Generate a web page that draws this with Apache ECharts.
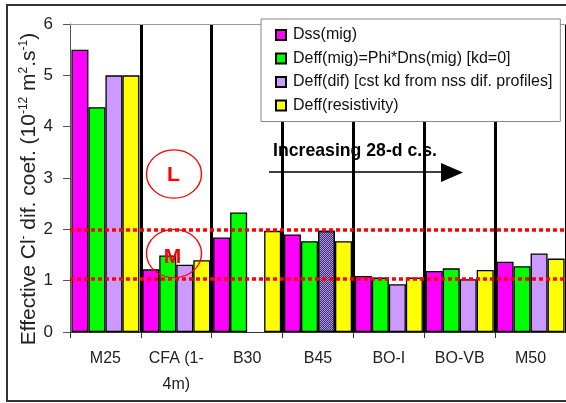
<!DOCTYPE html>
<html><head><meta charset="utf-8">
<script src="https://cdn.jsdelivr.net/npm/echarts@6/dist/echarts.min.js"></script>
<style>html,body{margin:0;padding:0;background:#fff}#c{width:566px;height:403px}</style>
</head><body><div id="c"></div>
<script>
const categories = ['M25', 'CFA (1-\n4m)', 'B30', 'B45', 'BO-I', 'BO-VB', 'M50'];
const seriesNames = ['Dss(mig)', 'Deff(mig)=Phi*Dns(mig) [kd=0]', 'Deff(dif) [cst kd from nss dif. profiles]', 'Deff(resistivity)'];
const dssMig = [5.5, 1.22, 1.84, 1.90, 1.09, 1.19, 1.37];
const deffMig = [4.38, 1.49, 2.33, 1.77, 1.06, 1.24, 1.28];
const deffDif = [5.0, 1.31, null, 1.97, 0.93, 1.03, 1.53];
const deffRes = [5.0, 1.40, 1.97, 1.77, 1.06, 1.21, 1.43];
const thresholds = [2.0, 1.03];
const yMin = 0, yMax = 6, yStep = 1;

const colors = ['#ff00ff', '#00ff00', '#cc99ff', '#ffff00'];
const FONT = 'Liberation Sans, Arial, sans-serif';

const difData = deffDif.map((v, i) => i === 3 ? {
  value: v,
  itemStyle: { color: '#b39ae8', decal: { symbol: 'rect', symbolSize: 1, color: '#3c2a6e', dashArrayX: [[1, 1], [0, 1, 1, 0]], dashArrayY: [1, 0] } }
} : v);

const allData = [dssMig, deffMig, difData, deffRes];
const series = allData.map((d, i) => ({
  name: seriesNames[i], type: 'bar', data: d,
  barGap: '0%', barCategoryGap: '4%',
  itemStyle: { color: colors[i], borderColor: '#000', borderWidth: 1.3 },
  emphasis: { disabled: true }
}));
series[3].markLine = {
  silent: true, symbol: 'none', label: { show: false },
  lineStyle: { color: '#ff0000', type: [4, 3], width: 3.5 },
  data: thresholds.map(t => ({ yAxis: t }))
};

const chart = echarts.init(document.getElementById('c'), null, { renderer: 'canvas' });
chart.setOption({
  backgroundColor: '#fff',
  animation: false,
  textStyle: { fontFamily: FONT },
  grid: { left: 70, top: 24, width: 502, height: 308, containLabel: false },
  legend: {
    orient: 'vertical', left: 261, top: 19,
    backgroundColor: '#fff', borderColor: '#888', borderWidth: 1,
    padding: [7, 8, 7, 14], itemGap: 5.5, itemWidth: 10, itemHeight: 10,
    icon: 'rect',
    textStyle: { fontFamily: FONT, fontSize: 16, color: '#111', lineHeight: 18, padding: [0, 0, 0, 2] },
    data: seriesNames
  },
  xAxis: [{
    type: 'category', data: categories,
    axisLine: { lineStyle: { color: '#333', width: 1 } },
    axisTick: { show: true, interval: 0, length: 6, lineStyle: { color: '#333' } },
    axisLabel: { interval: 0, fontSize: 16, color: '#222', margin: 14, lineHeight: 26, fontFamily: FONT },
    splitLine: { show: true, interval: function (idx) { return idx !== 0; }, lineStyle: { color: '#000', width: 3 } }
  }, {
    type: 'category', data: categories, position: 'top',
    axisLine: { show: true, lineStyle: { color: '#999', width: 1 } },
    axisTick: { show: false }, axisLabel: { show: false }, splitLine: { show: false }
  }],
  yAxis: {
    type: 'value', min: yMin, max: yMax, interval: yStep,
    axisLine: { show: true, lineStyle: { color: '#555' } },
    axisTick: { show: true, length: 7, lineStyle: { color: '#555' } },
    splitLine: { show: false },
    axisLabel: { fontSize: 17, color: '#222', margin: 17 },
    name: '{a|Effective Cl}{s|-}{a| dif. coef. (10}{s|-12}{a| m}{s|2}{a|.s}{s|-1}{a|)}',
    nameLocation: 'middle', nameGap: 30, nameMoveOverlap: false,
    nameTextStyle: {
      padding: [0, 22, 0, 0],
      rich: {
        a: { fontSize: 21, color: '#222', fontFamily: FONT, lineHeight: 22 },
        s: { fontSize: 12, color: '#222', fontFamily: FONT, verticalAlign: 'top', lineHeight: 12 }
      }
    }
  },
  series: series,
  graphic: [
    { type: 'rect', shape: { x: 7, y: 5, width: 620, height: 396 }, style: { fill: 'none', stroke: '#333', lineWidth: 2 }, z: 100, silent: true },
    { type: 'line', shape: { x1: 269, y1: 172, x2: 444, y2: 172 }, style: { stroke: '#000', lineWidth: 1.5 }, z: -1, silent: true },
    { type: 'polygon', shape: { points: [[441, 163], [463, 172.5], [441, 182]] }, style: { fill: '#000' }, z: -1, silent: true },
    { type: 'text', x: 273, y: 151, scaleX: 0.93, style: { text: 'Increasing 28-d c.s.', font: 'bold 19px ' + FONT, fill: '#000', verticalAlign: 'middle' }, z: -1, silent: true },
    { type: 'circle', x: 174, y: 174, scaleY: 0.88, shape: { cx: 0, cy: 0, r: 27.5 }, style: { fill: 'none', stroke: '#ff0000', lineWidth: 1.4 }, z: 100, silent: true },
    { type: 'text', x: 173.5, y: 175.5, style: { text: 'L', font: 'bold 21px ' + FONT, fill: '#ff0000', align: 'center', verticalAlign: 'middle' }, z: 100, silent: true },
    { type: 'circle', x: 174, y: 253.5, scaleY: 0.88, shape: { cx: 0, cy: 0, r: 27.5 }, style: { fill: 'none', stroke: '#ff0000', lineWidth: 1.4 }, z: 100, silent: true },
    { type: 'text', x: 172.5, y: 257, style: { text: 'M', font: 'bold 21px ' + FONT, fill: '#ff0000', align: 'center', verticalAlign: 'middle' }, z: 100, silent: true }
  ]
});
</script></body></html>
